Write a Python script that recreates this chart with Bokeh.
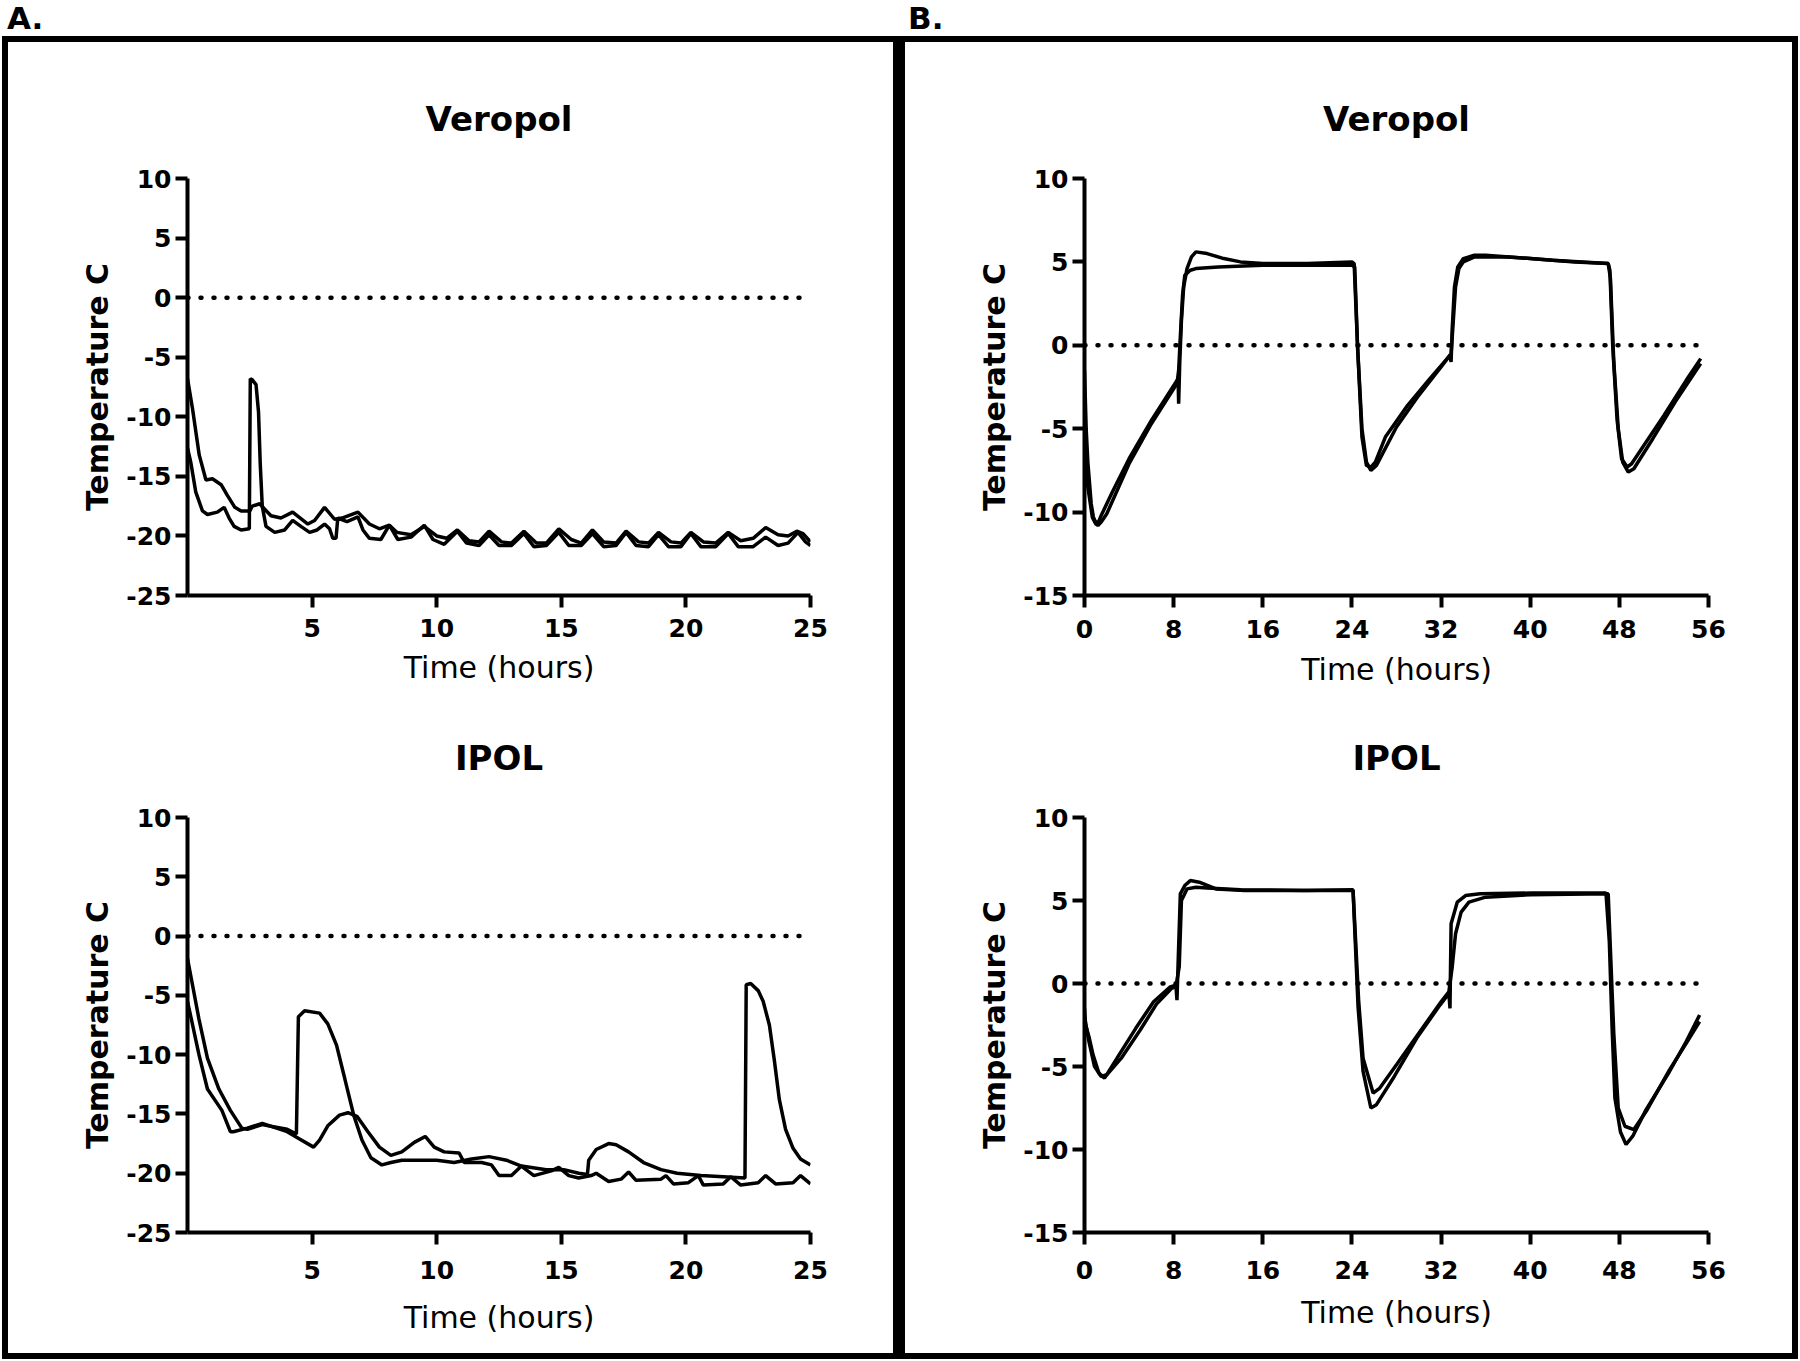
from bokeh.plotting import figure
from bokeh.models import Div, Span, FixedTicker, Range1d, PrintfTickFormatter
from bokeh.layouts import row, column
from bokeh.embed import file_html
from bokeh.resources import INLINE

FONT = "DejaVu Sans"

# ---------------- data ----------------
# Panel A, Veropol (hours, deg C)
av1_x = [0.0,0.2,0.47,0.74,1.0,1.35,1.6,1.9,2.15,2.5,2.6,2.9,3.07,3.35,3.75,4.22,4.83,5.1,5.5,5.9,6.2,6.84,7.3,7.7,8.1,8.4,8.97,9.5,10.0,10.4,10.83,11.3,11.7,12.1,12.6,13.0,13.5,14.0,14.4,14.9,15.4,15.8,16.25,16.7,17.2,17.6,18.1,18.5,18.9,19.4,19.8,20.2,20.7,21.2,21.7,22.2,22.7,23.2,23.7,24.1,24.45,24.7,25.0]
av1_y = [-6.8,-9.3,-13.2,-15.3,-15.2,-15.7,-16.6,-17.6,-17.9,-17.9,-17.5,-17.3,-17.7,-18.3,-18.5,-18.0,-19.0,-18.7,-17.6,-18.6,-18.5,-18.0,-19.0,-19.4,-19.1,-19.7,-19.9,-19.2,-20.0,-20.2,-19.5,-20.4,-20.5,-19.6,-20.5,-20.6,-19.6,-20.6,-20.6,-19.4,-20.3,-20.6,-19.5,-20.5,-20.6,-19.6,-20.5,-20.6,-19.7,-20.5,-20.6,-19.7,-20.5,-20.6,-19.7,-20.4,-20.2,-19.3,-19.9,-20.0,-19.6,-19.8,-20.5]
av2_x = [0.0,0.13,0.33,0.6,0.8,1.2,1.47,1.67,1.87,2.15,2.48,2.52,2.6,2.75,2.85,2.92,3.0,3.15,3.5,3.9,4.22,4.55,4.9,5.2,5.5,5.7,5.83,5.96,6.03,6.4,6.84,7.04,7.3,7.76,8.1,8.44,8.97,9.5,9.85,10.3,10.83,11.2,11.7,12.1,12.5,13.0,13.5,13.9,14.4,14.9,15.3,15.8,16.25,16.7,17.2,17.6,18.0,18.5,18.9,19.3,19.8,20.2,20.6,21.2,21.7,22.1,22.7,23.2,23.7,24.1,24.5,24.8,25.0]
av2_y = [-12.6,-13.8,-16.3,-17.9,-18.2,-18.0,-17.6,-18.5,-19.2,-19.5,-19.4,-6.8,-6.9,-7.3,-9.6,-14.0,-17.5,-19.2,-19.7,-19.5,-18.7,-19.2,-19.7,-19.5,-19.0,-19.4,-20.2,-20.2,-18.5,-18.8,-18.4,-19.5,-20.2,-20.3,-19.1,-20.3,-20.1,-19.1,-20.3,-20.7,-19.6,-20.6,-20.8,-19.9,-20.8,-20.8,-19.8,-20.9,-20.8,-19.7,-20.8,-20.8,-19.8,-20.9,-20.8,-19.7,-20.8,-20.9,-19.9,-20.9,-20.9,-19.8,-20.9,-20.9,-19.8,-20.9,-20.9,-20.1,-20.8,-20.6,-19.7,-20.5,-20.8]

# Panel A, IPOL
ai1_x = [0.0,0.46,0.8,1.26,1.72,2.18,2.4,3.0,3.5,4.0,4.37,4.45,4.7,5.3,5.63,5.98,6.32,6.67,7.0,7.36,7.8,8.16,8.6,10.0,10.7,11.4,12.1,12.8,13.4,14.4,15.1,15.7,16.05,16.1,16.4,16.9,17.2,17.7,18.3,19.0,19.65,20.6,21.5,22.37,22.42,22.6,22.9,23.1,23.35,23.55,23.75,24.0,24.3,24.6,25.0]
ai1_y = [-1.9,-7.0,-10.3,-12.9,-14.7,-16.2,-16.3,-15.9,-16.1,-16.3,-16.7,-6.8,-6.3,-6.5,-7.4,-9.2,-12.1,-15.1,-17.2,-18.7,-19.3,-19.1,-18.9,-18.9,-19.1,-18.8,-18.6,-18.9,-19.4,-19.7,-19.7,-20.0,-20.1,-18.9,-18.0,-17.5,-17.6,-18.2,-19.1,-19.7,-20.0,-20.2,-20.3,-20.4,-4.1,-4.0,-4.6,-5.5,-7.5,-10.5,-13.8,-16.3,-17.9,-18.8,-19.3]
ai2_x = [0.0,0.46,0.8,1.38,1.72,1.84,2.4,3.0,4.0,4.48,5.06,5.3,5.63,6.1,6.44,6.8,7.24,7.7,8.16,8.6,9.1,9.54,9.9,10.3,10.9,11.1,11.8,12.2,12.5,13.0,13.4,13.9,14.6,14.9,15.3,15.7,16.2,16.4,16.9,17.4,17.7,18.0,19.0,19.2,19.5,20.1,20.5,20.7,21.5,21.8,22.2,22.9,23.2,23.6,24.3,24.6,25.0]
ai2_y = [-5.5,-10.0,-12.9,-14.7,-16.5,-16.5,-16.2,-15.8,-16.5,-17.1,-17.8,-17.2,-16.0,-15.1,-14.9,-15.2,-16.5,-17.8,-18.5,-18.2,-17.4,-16.9,-17.8,-18.2,-18.3,-19.1,-19.1,-19.3,-20.2,-20.2,-19.4,-20.2,-19.8,-19.5,-20.2,-20.4,-20.2,-20.0,-20.7,-20.5,-19.9,-20.6,-20.5,-20.2,-20.9,-20.8,-20.2,-21.0,-20.9,-20.3,-21.0,-20.8,-20.2,-20.9,-20.8,-20.2,-20.9]

# Panel B, Veropol
bv1_x = [0.0,0.15,0.3,0.6,0.8,1.0,1.25,1.5,2.5,4.0,6.0,8.4,8.45,8.55,8.7,8.9,9.2,9.6,10.0,11.0,12.5,14.0,16.0,20.0,24.0,24.2,24.5,24.9,25.3,25.7,26.1,27.0,29.0,31.0,32.8,32.9,33.0,33.2,33.5,34.0,35.0,36.0,40.0,44.0,47.0,47.15,47.4,47.8,48.2,48.7,49.1,50.0,52.0,54.0,55.3]
bv1_y = [-1.5,-5.0,-7.0,-9.5,-10.3,-10.6,-10.6,-10.2,-8.8,-6.8,-4.5,-2.0,-3.5,-1.0,1.5,3.5,4.6,5.3,5.6,5.5,5.2,5.0,4.9,4.9,5.0,4.9,0.0,-5.5,-7.2,-7.3,-7.0,-5.5,-3.6,-2.0,-0.6,-1.0,1.0,3.5,4.7,5.2,5.4,5.4,5.2,5.0,4.9,4.5,0.0,-4.5,-6.8,-7.3,-7.1,-6.2,-4.2,-2.1,-0.8]
bv2_x = [0.0,0.1,0.3,0.7,1.0,1.2,1.5,2.0,3.0,4.0,6.0,8.3,8.45,8.6,8.8,9.0,9.5,10.0,12.0,16.0,20.0,24.0,24.25,24.5,24.9,25.3,25.7,26.2,28.0,30.0,32.0,32.9,33.1,33.3,33.6,34.0,35.0,38.0,42.0,47.0,47.2,47.5,47.9,48.3,48.8,49.3,51.0,53.0,55.3]
bv2_y = [-4.5,-6.0,-8.5,-10.3,-10.7,-10.8,-10.6,-10.1,-8.6,-7.1,-4.7,-2.3,-1.5,0.5,3.0,4.2,4.5,4.6,4.7,4.8,4.8,4.8,4.7,0.0,-5.0,-7.0,-7.5,-7.2,-4.9,-3.0,-1.3,-0.5,1.5,3.5,4.6,5.0,5.3,5.3,5.1,4.9,4.0,-1.0,-5.0,-7.0,-7.6,-7.4,-5.6,-3.4,-1.1]

# Panel B, IPOL
bi1_x = [0.0,0.1,0.4,0.77,1.29,1.8,3.1,4.6,6.2,7.7,8.2,8.3,8.4,8.6,9.0,9.5,10.3,11.8,14.4,19.6,24.1,24.3,24.55,25.0,25.7,26.2,27.8,29.9,31.9,32.7,32.8,32.9,33.45,34.2,35.5,40.1,46.8,47.1,47.35,47.6,48.1,48.6,49.2,50.4,52.5,54.0,55.2]
bi1_y = [-1.5,-2.5,-3.2,-4.3,-5.4,-5.7,-4.3,-2.7,-1.1,-0.2,-0.1,-1.0,1.2,5.4,5.9,6.2,6.1,5.7,5.6,5.6,5.65,2.5,-1.4,-5.3,-7.5,-7.3,-5.6,-3.2,-1.3,-0.6,-1.5,3.6,4.9,5.3,5.4,5.45,5.45,2.5,-2.7,-6.9,-8.95,-9.7,-9.2,-7.6,-5.3,-3.5,-1.9]
bi2_x = [0.0,0.4,0.9,1.5,2.0,3.3,5.0,6.5,7.8,8.2,8.5,8.7,9.2,10.0,11.0,14.0,20.0,24.1,24.3,24.6,25.0,25.9,26.5,28.0,30.0,32.0,32.7,33.0,33.3,33.8,34.5,36.0,40.0,47.0,47.2,47.5,47.9,48.5,49.3,50.5,52.5,54.0,55.2]
bi2_y = [-2.0,-3.5,-5.0,-5.6,-5.5,-4.5,-2.8,-1.2,-0.3,-0.2,1.0,5.0,5.7,5.8,5.75,5.65,5.6,5.6,3.0,-1.0,-4.5,-6.6,-6.3,-4.9,-3.0,-1.1,-0.5,1.0,3.0,4.3,4.9,5.2,5.35,5.4,2.0,-3.0,-7.5,-8.6,-8.8,-7.6,-5.2,-3.6,-2.3]

a_xticks = [5, 10, 15, 20, 25]
a_yticks = [-25, -20, -15, -10, -5, 0, 5, 10]
b_xticks = [0, 8, 16, 24, 32, 40, 48, 56]
b_yticks = [-15, -10, -5, 0, 5, 10]

panel_titles = ["Veropol", "IPOL"]
panel_letters = ["A.", "B."]
x_label = "Time (hours)"
y_label = "Temperature C"


def panel(title, series, xr, yr, xticks, yticks, w, h, bl, br, bt, bb,
          tick_standoff, xlab_standoff):
    p = figure(width=w, height=h, x_range=Range1d(*xr), y_range=Range1d(*yr),
               output_backend="svg", toolbar_location=None, title=title,
               min_border_left=bl, min_border_right=br,
               min_border_top=bt, min_border_bottom=bb,
               x_axis_label=x_label, y_axis_label=y_label)
    p.outline_line_color = None
    p.grid.visible = False
    p.title.align = "center"
    p.title.text_font = FONT
    p.title.text_font_style = "bold"
    p.title.text_font_size = "34px"
    p.title.text_color = "black"
    p.title.standoff = 80
    for ax in (p.xaxis[0], p.yaxis[0]):
        ax.axis_line_width = 4
        ax.axis_line_color = "black"
        ax.major_tick_line_width = 4
        ax.major_tick_line_color = "black"
        ax.major_tick_out = 12
        ax.major_tick_in = 0
        ax.minor_tick_line_color = None
        ax.major_label_text_font = FONT
        ax.major_label_text_font_style = "bold"
        ax.major_label_text_font_size = "25px"
        ax.major_label_text_color = "black"
        ax.axis_label_text_color = "black"
        ax.formatter = PrintfTickFormatter(format="%d")
    p.xaxis.ticker = FixedTicker(ticks=xticks)
    p.yaxis.ticker = FixedTicker(ticks=yticks)
    p.xaxis.major_label_standoff = tick_standoff
    p.yaxis.major_label_standoff = 4
    p.xaxis.axis_label_text_font = FONT
    p.xaxis.axis_label_text_font_style = "normal"
    p.xaxis.axis_label_text_font_size = "30px"
    p.xaxis.axis_label_standoff = xlab_standoff
    p.yaxis.axis_label_text_font = FONT
    p.yaxis.axis_label_text_font_style = "bold"
    p.yaxis.axis_label_text_font_size = "30px"
    p.yaxis.axis_label_standoff = 8
    p.add_layout(Span(location=0, dimension="width", line_color="black",
                      line_width=4.5, line_dash="1 12", line_cap="round"))
    for xs, ys in series:
        p.line(xs, ys, line_color="black", line_width=3.5)
    return p


fa1 = panel(panel_titles[0], [(av1_x, av1_y), (av2_x, av2_y)], (0, 25), (-25, 10),
            a_xticks, a_yticks, 885, 653, 179, 83, 136, 100, 11, 10)
fa2 = panel(panel_titles[1], [(ai1_x, ai1_y), (ai2_x, ai2_y)], (0, 25), (-25, 10),
            a_xticks, a_yticks, 885, 658, 179, 83, 122, 121, 16, 18)
fb1 = panel(panel_titles[0], [(bv1_x, bv1_y), (bv2_x, bv2_y)], (0, 56), (-15, 10),
            b_xticks, b_yticks, 887, 653, 179, 84, 136, 100, 12, 11)
fb2 = panel(panel_titles[1], [(bi1_x, bi1_y), (bi2_x, bi2_y)], (0, 56), (-15, 10),
            b_xticks, b_yticks, 887, 658, 179, 84, 122, 121, 16, 13)


def letter(txt, w):
    html = ('<div style="padding-left:7px; font-family:\'DejaVu Sans\'; font-weight:bold; '
            'font-size:31px; line-height:36px; color:black; margin:0;">%s</div>' % txt)
    return Div(text=html, width=w, height=36, margin=0)


def bar(w, h, color="black"):
    return Div(text="", width=w, height=h, margin=0,
               styles={"background-color": color})


hdr = row(letter(panel_letters[0], 901), letter(panel_letters[1], 899))
body = row(bar(2, 1311, "white"), bar(6, 1311), column(fa1, fa2), bar(12, 1311),
           column(fb1, fb2), bar(6, 1311), bar(2, 1311, "white"))
frame_top = row(bar(2, 6, "white"), bar(1796, 6), bar(2, 6, "white"))
frame_bot = row(bar(2, 6, "white"), bar(1796, 6), bar(2, 6, "white"))
page = column(hdr, frame_top, body, frame_bot)

open("out.html", "w").write(file_html(page, INLINE))
